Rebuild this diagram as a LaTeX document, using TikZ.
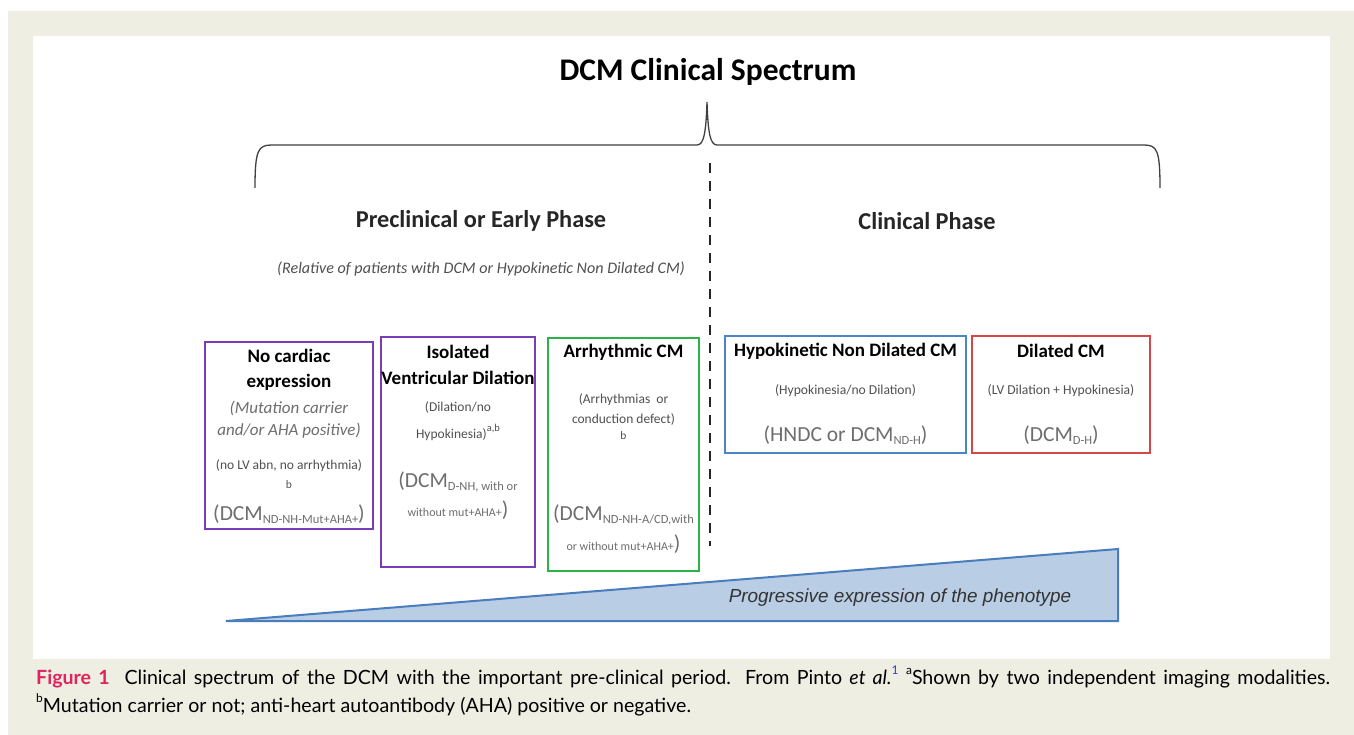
\documentclass[tikz,border=0pt]{standalone}
\usepackage{fontspec}
\setmainfont{Carlito}
\newfontfamily\capfont{Lato}
\newfontfamily\arialfont{Liberation Sans}
\definecolor{beige}{HTML}{EEEEE3}
\definecolor{cpurple}{HTML}{7A3DB8}
\definecolor{cgreen}{HTML}{2DB24A}
\definecolor{cblue}{HTML}{4B84C8}
\definecolor{cred}{HTML}{D3474A}
\definecolor{tgray}{HTML}{6E6E6E}
\definecolor{sgray}{HTML}{505050}
\definecolor{trifill}{HTML}{B9CDE5}
\definecolor{triedge}{HTML}{4A7DBE}
\definecolor{figred}{HTML}{E0245E}
\definecolor{linkblue}{HTML}{2A3FD8}
\newcommand\fsz[1]{\fontsize{#1}{#1}\selectfont}
\newcommand\dsub[1]{\raisebox{-0.35ex}{\fsz{12.5}#1}}
\begin{document}
\begin{tikzpicture}[x=1pt,y=-1pt,
  boxst/.style={draw=#1,line width=2.4pt,inner sep=0pt,fill=white},
  ttl/.style={font=\fsz{19}\bfseries,text=black,inner sep=0pt},
  itl/.style={font=\fsz{17}\itshape,text=tgray,inner sep=0pt},
  sml/.style={font=\fsz{13.5},text=sgray,inner sep=0pt},
  tiny/.style={font=\fsz{11.5},text=sgray,inner sep=0pt},
  big/.style={font=\fsz{21.5},text=tgray,inner sep=0pt},
  phase/.style={font=\fsz{24.3}\bfseries,text=black!85,inner sep=0pt}]
\useasboundingbox (0,0) rectangle (1354,735);
\fill[white] (0,0) rectangle (1354,735);
\fill[beige] (8,11) rectangle (1354,735);
\fill[white] (33,36) rectangle (1330,659);

\node[font=\fsz{31.5}\bfseries,inner sep=0pt] (title) at (708,72) {DCM Clinical Spectrum};

% brace
\coordinate (bl) at (255,188);
\coordinate (br) at (1160,188);
\coordinate (btip) at (707,102);
\draw[line width=1.3pt,black!75] (bl) .. controls (255,150) and (258,145) .. (272,145) -- (697,145)
  .. controls (704,145) and (706,132) .. (btip) .. controls (708,132) and (710,145) .. (717,145)
  -- (1144,145) .. controls (1157,145) and (1160,150) .. (br);

% dashed divider
\coordinate (dtop) at (710,163);
\coordinate (dbot) at (710,546);
\draw[line width=2.6pt,black!85,dash pattern=on 10pt off 8pt] (dtop) -- (dbot);

\node[phase] (pre) at (481,221) {Preclinical or Early Phase};
\node[font=\fsz{16.1}\itshape,text=sgray,inner sep=0pt] (rel) at (481,269) {(Relative of patients with DCM or Hypokinetic Non Dilated CM)};
\node[phase] (cli) at (927,221) {Clinical Phase};

% triangle
\coordinate (ta) at (226,621);
\coordinate (tb) at (1118,549);
\coordinate (tc) at (1118,621);
\draw[fill=trifill,draw=triedge,line width=2pt,line join=miter] (ta) -- (tb) -- (tc) -- cycle;
\node[font=\arialfont\fsz{18.9}\itshape,text=black!80,inner sep=0pt] (prog) at (900,598) {Progressive expression of the phenotype};

% boxes
\node[boxst=cpurple,minimum width=168pt,minimum height=187pt] (b1) at (289,435.5) {};
\node[boxst=cpurple,minimum width=154pt,minimum height=230pt] (b2) at (458,452) {};
\node[boxst=cgreen,minimum width=151pt,minimum height=233pt] (b3) at (623.5,454.5) {};
\node[boxst=cblue,minimum width=241pt,minimum height=117pt] (b4) at (845.5,394.5) {};
\node[boxst=cred,minimum width=178pt,minimum height=117pt] (b5) at (1061,394.5) {};

% box 1
\node[ttl] (b1t1) at (289,356) {No cardiac};
\node[ttl] (b1t2) at (289,382) {expression};
\node[itl] (b1i1) at (289,408) {(Mutation carrier};
\node[itl] (b1i2) at (289,431) {and/or AHA positive)};
\node[sml] (b1s1) at (289,466) {(no LV abn, no arrhythmia)};
\node[tiny] (b1s2) at (289,485) {b};
\node[big] (b1d) at (289,514) {(DCM\dsub{ND-NH-Mut+AHA+})};

% box 2
\node[ttl] (b2t1) at (458,352) {Isolated};
\node[ttl] (b2t2) at (458,378) {Ventricular Dilation};
\node[sml] (b2s1) at (458,408) {(Dilation/no};
\node[sml] (b2s2) at (458,432) {Hypokinesia)\raisebox{1.1ex}{\fsz{10.5}a,b}};
\node[big] (b2d1) at (458,482) {(DCM\dsub{D-NH, with or}};
\node[big] (b2d2) at (458,510) {{\fsz{12}without mut+AHA+})};

% box 3
\node[ttl] (b3t1) at (623.5,352) {Arrhythmic CM};
\node[sml] (b3s1) at (623.5,400) {(Arrhythmias\ \ or};
\node[sml] (b3s2) at (623.5,419) {conduction defect)};
\node[tiny] (b3s3) at (623.5,436) {b};
\node[big] (b3d1) at (623.5,515) {(DCM\dsub{ND-NH-A/CD,with}};
\node[big] (b3d2) at (623.5,544) {{\fsz{12}or without mut+AHA+})};

% box 4
\node[ttl] (b4t) at (845.5,351) {Hypokinetic Non Dilated CM};
\node[font=\fsz{13.6},text=sgray,inner sep=0pt] (b4s) at (845.5,391) {(Hypokinesia/no Dilation)};
\node[big] (b4d) at (845.5,435) {(HNDC or DCM\dsub{ND-H})};

% box 5
\node[ttl] (b5t) at (1061,351) {Dilated CM};
\node[font=\fsz{13.6},text=sgray,inner sep=0pt] (b5s) at (1061,391) {(LV Dilation + Hypokinesia)};
\node[big] (b5d) at (1061,435) {(DCM\dsub{D-H})};

% caption
\node[anchor=base west,inner sep=0pt,font=\capfont\fsz{19.6}] (cap1) at (36,684)
  {\makebox[1294pt][s]{{\color{figred}\bfseries Figure 1}\ \ Clinical spectrum of the DCM with the important pre-clinical period. From Pinto \textit{et al.}\raisebox{1ex}{\fsz{12}\color{linkblue}1} \raisebox{1ex}{\fsz{12}a}Shown by two independent imaging modalities.}};
\node[anchor=base west,inner sep=0pt,font=\capfont\fsz{19.6}] (cap2) at (36,712)
  {\raisebox{1ex}{\fsz{12}b}Mutation carrier or not; anti-heart autoantibody (AHA) positive or negative.};
\end{tikzpicture}
\end{document}
